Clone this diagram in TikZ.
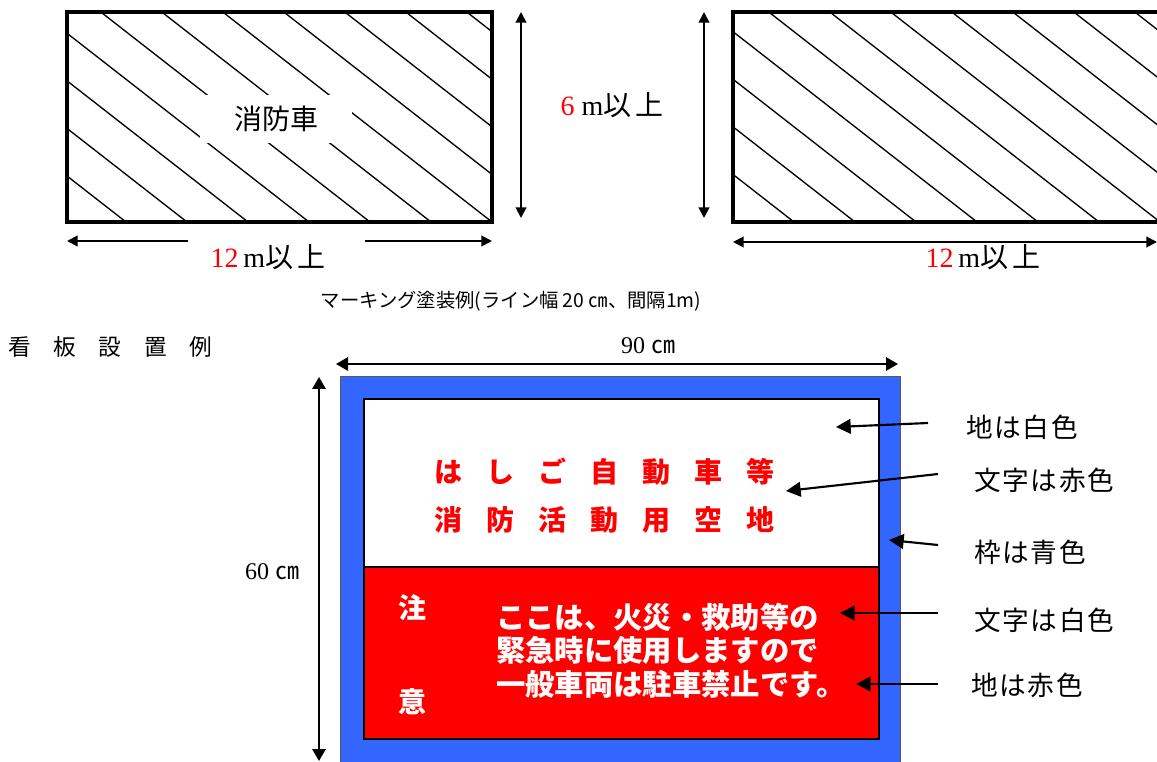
\documentclass[tikz,border=0pt]{standalone}
\usepackage{fontspec}
\setmainfont{Liberation Serif}
\newfontfamily\jp{Noto Sans CJK JP}
\newfontfamily\jpwide{Noto Sans CJK JP}[LetterSpace=100]
\newfontfamily\jpsign{Noto Sans CJK JP}[LetterSpace=86]
\newfontfamily\jplbl{Noto Sans CJK JP}[LetterSpace=6]
\newfontfamily\jpdim{Noto Sans CJK JP}[LetterSpace=15]
\usetikzlibrary{arrows.meta}

\definecolor{signblue}{RGB}{51,102,255}
\definecolor{signred}{RGB}{255,0,0}

\begin{document}
\begin{tikzpicture}[x=0.75pt, y=-0.75pt,
  dim/.style={-{Triangle[length=8pt, width=8pt]}, line width=1.5pt},
  bigdim/.style={-{Triangle[length=9pt, width=10pt]}, line width=1.5pt},
  callout/.style={-{Triangle[length=11pt, width=11pt]}, line width=1.6pt},
  hatch/.style={line width=1pt},
  area/.style={draw, line width=2.6pt},
  txt/.style={inner sep=0pt, font=\fontsize{20pt}{24pt}\selectfont}]
\useasboundingbox (0,0) rectangle (1157,762);

% marking, left
\begin{scope}
\clip (67,12) rectangle (492,222);
\foreach \k in {0,...,10}
  \draw[hatch] ({67+59+61*\k},222) -- ({67+59+61*\k-300},{222-234});
\end{scope}
\node (car)[fill=white, minimum width=114pt, minimum height=36pt, font=\fontsize{21pt}{25pt}\selectfont] at (276,119) {\jp 消防車};
\draw[area] (67,12) rectangle (492,222);

% marking, right
\begin{scope}
\clip (733,12) rectangle (1160,222);
\foreach \k in {0,...,10}
  \draw[hatch] ({733+61+61*\k},222) -- ({733+61+61*\k-300},{222-234});
\end{scope}
\draw[area] (733,12) rectangle (1160,222);

% dimensions of the marking
\node (w12a)[txt, font=\fontsize{21pt}{24pt}\selectfont] at (268,257) {\textcolor{red}{12}\,m{\jpdim 以上}};
\node (h6)[txt, font=\fontsize{21pt}{24pt}\selectfont] at (612,105) {\textcolor{red}{6} m{\jpdim 以上}};
\node (w12b)[txt, font=\fontsize{21pt}{24pt}\selectfont] at (983,257) {\textcolor{red}{12}\,m{\jpdim 以上}};
\coordinate (la) at (188,241);
\coordinate (lb) at (67,241);
\coordinate (lc) at (365,241);
\coordinate (ld) at (492,241);
\draw[dim] (la) -- (lb);
\draw[dim] (lc) -- (ld);
\coordinate (va) at (521,12);
\coordinate (vb) at (521,218);
\draw[dim, {Triangle[length=8pt, width=8pt]}-{Triangle[length=8pt, width=8pt]}] (va) -- (vb);
\coordinate (vc) at (704,12);
\coordinate (vd) at (704,218);
\draw[dim, {Triangle[length=8pt, width=8pt]}-{Triangle[length=8pt, width=8pt]}] (vc) -- (vd);
\coordinate (re) at (733,242);
\coordinate (rf) at (1157,242);
\draw[dim, {Triangle[length=8pt, width=8pt]}-{Triangle[length=8pt, width=8pt]}] (re) -- (rf);

\node (cap)[inner sep=0pt, font=\fontsize{14.5pt}{17pt}\selectfont] at (511,301) {\jp マーキング塗装例(ライン幅 20 ㎝、間隔1m)};
\node (title)[inner sep=0pt, anchor=west, font=\fontsize{17pt}{20pt}\selectfont] at (8,347) {\jpwide 看板設置例};

% sign
\draw[fill=signblue, draw=gray!70!black, line width=0.6pt] (340,376) rectangle (900,780);
\draw[fill=white, line width=0.8pt] (364,399) rectangle (879,567);
\draw[fill=signred, line width=0.8pt] (364,567) rectangle (879,739);

\node (l1)[inner sep=0pt, anchor=west, text=signred, font=\fontsize{21pt}{25pt}\selectfont\bfseries] at (434,472) {\jpsign はしご自動車等};
\node (l2)[inner sep=0pt, anchor=west, text=signred, font=\fontsize{21pt}{25pt}\selectfont\bfseries] at (434,520) {\jpsign 消防活動用空地};
\node (chu)[inner sep=0pt, text=white, font=\fontsize{21pt}{25pt}\selectfont\bfseries] at (412,608) {\jp 注};
\node (i)[inner sep=0pt, text=white, font=\fontsize{21pt}{25pt}\selectfont\bfseries] at (412,702) {\jp 意};
\node (notice)[inner sep=0pt, anchor=north west, text=white, align=left, font=\fontsize{22pt}{25pt}\selectfont\bfseries] at (496,603) {\jp ここは、火災・救助等の\\\jp 緊急時に使用しますので\\\jp 一般車両は駐車禁止です。};

% sizes of the sign
\node (w90)[txt, font=\fontsize{18pt}{20pt}\selectfont] at (648,346) {90 {\jp ㎝}};
\node (h60)[txt, font=\fontsize{18pt}{20pt}\selectfont] at (272,572) {60 {\jp ㎝}};
\coordinate (sa) at (336,364);
\coordinate (sb) at (898,364);
\draw[bigdim, {Triangle[length=9pt, width=10pt]}-{Triangle[length=9pt, width=10pt]}] (sa) -- (sb);
\coordinate (sc) at (319,377);
\coordinate (sd) at (319,761);
\draw[bigdim, {Triangle[length=9pt, width=10pt]}-{Triangle[length=9pt, width=10pt]}] (sc) -- (sd);

% colour notes
\node (n1)[txt, anchor=west] at (966,427) {\jplbl 地は白色};
\node (n2)[txt, anchor=west] at (974,480) {\jplbl 文字は赤色};
\node (n3)[txt, anchor=west] at (974,552) {\jplbl 枠は青色};
\node (n4)[txt, anchor=west] at (974,620) {\jplbl 文字は白色};
\node (n5)[txt, anchor=west] at (971,685) {\jplbl 地は赤色};
\coordinate (s1) at (928,423);
\coordinate (t1) at (836,427);
\coordinate (s2) at (938,474);
\coordinate (t2) at (786,491);
\coordinate (s3) at (938,545);
\coordinate (t3) at (889,540);
\coordinate (s4) at (938,613);
\coordinate (t4) at (840,613);
\coordinate (s5) at (938,684);
\coordinate (t5) at (856,684);
\draw[callout] (s1) -- (t1);
\draw[callout] (s2) -- (t2);
\draw[callout] (s3) -- (t3);
\draw[callout] (s4) -- (t4);
\draw[callout] (s5) -- (t5);
\end{tikzpicture}
\end{document}
